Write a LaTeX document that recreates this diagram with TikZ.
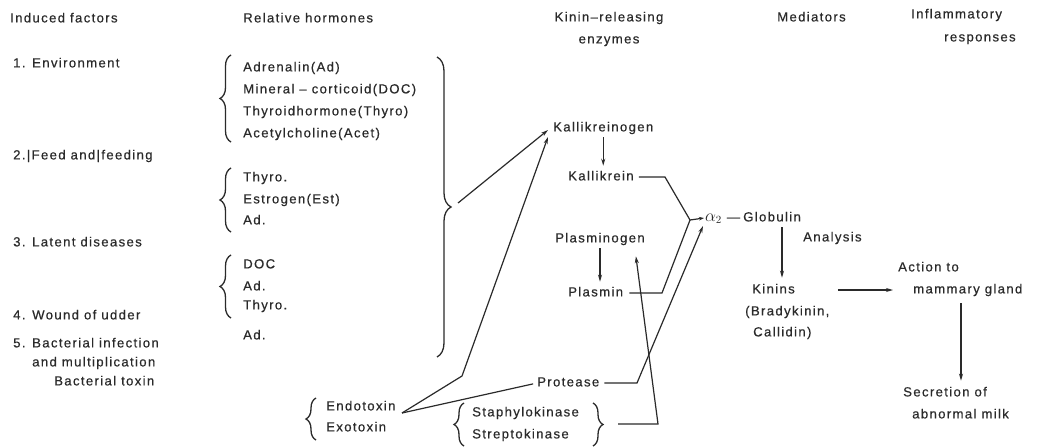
\documentclass[tikz,border=0pt]{standalone}
\usepackage{fontspec}
\setmainfont{Liberation Sans}[LetterSpace=10,FakeBold=0.4]
\usetikzlibrary{arrows.meta,decorations.pathreplacing}
\definecolor{ink}{HTML}{2A2A2A}
\begin{document}
\begin{tikzpicture}[x=1pt,y=-1pt,
  every node/.style={font=\fontsize{13.2pt}{15pt}\selectfont, text=ink, inner sep=0pt, anchor=west, text height=9.5pt, text depth=2.7pt},
  conn/.style={draw=ink, line width=1.2pt},
  arr/.style={conn, -{Stealth[length=7pt,width=4pt]}},
  sarr/.style={conn, -{Stealth[length=5pt,width=3.5pt]}},
  bracedraw/.style={draw=ink, line width=1.3pt, decorate, decoration={brace, amplitude=#1}},
]
\useasboundingbox[fill=white] (0,0) rectangle (1049,447);
% headers
\node (hInd) at (10,19) {Induced factors};
\node (hRel) at (243,19) {Relative hormones};
\node[anchor=center] (hKin) at (609,18) {Kinin–releasing};
\node[anchor=center] (hEnz) at (609,40) {enzymes};
\node (hMed) at (777,18) {Mediators};
\node (hInf) at (911,15) {Inflammatory};
\node (hRes) at (944,38) {responses};
% induced factors
\node (f1) at (13,64) {1. Environment};
\node (f2) at (13,156) {2.|Feed and|feeding};
\node (f3) at (13,243) {3. Latent diseases};
\node (f4) at (13,316) {4. Wound of udder};
\node (f5) at (13,344) {5. Bacterial infection};
\node (f5b) at (32,363) {and multiplication};
\node (f5c) at (54,382) {Bacterial toxin};
% hormones
\node (h1) at (243,68) {Adrenalin(Ad)};
\node (h2) at (243,90) {Mineral – corticoid(DOC)};
\node (h3) at (243,112) {Thyroidhormone(Thyro)};
\node (h4) at (243,134) {Acetylcholine(Acet)};
\node (h5) at (243,178) {Thyro.};
\node (h6) at (243,200) {Estrogen(Est)};
\node (h7) at (243,221) {Ad.};
\node (h8) at (243,265) {DOC};
\node (h9) at (243,287) {Ad.};
\node (h10) at (243,306) {Thyro.};
\node (h11) at (243,336) {Ad.};
% toxins and kinases
\node (endo) at (326,407) {Endotoxin};
\node (exo) at (326,428) {Exotoxin};
\node (staph) at (472,413) {Staphylokinase};
\node (strep) at (472,435) {Streptokinase};
% enzymes
\node (kgen) at (553,128) {Kallikreinogen};
\node (kal) at (568,177) {Kallikrein};
\node (pg) at (555,239) {Plasminogen};
\node (pl) at (568,293) {Plasmin};
\node (prot) at (537,383) {Protease};
% mediators
\node (alpha) at (705,218) {{\fontsize{16pt}{16pt}\selectfont$\alpha_2$} —};
\node (glob) at (743,218) {Globulin};
\node (ana) at (803,238) {Analysis};
\node (kin) at (752,290) {Kinins};
\node (brady) at (745,312) {(Bradykinin,};
\node (cal) at (753,333) {Callidin)};
% responses
\node (act) at (898,268) {Action to};
\node (mam) at (913,290) {mammary gland};
\node (sec) at (903,393) {Secretion of};
\node (abn) at (912,415) {abnormal milk};
% braces
\draw[bracedraw=11pt] (231,142) -- (231,55);
\draw[bracedraw=11pt] (231,232) -- (231,168);
\draw[bracedraw=11pt] (231,318) -- (231,255);
\draw[bracedraw=14pt] (437,57) -- (437,357);
\draw[bracedraw=10pt] (316,440) -- (316,398);
\draw[bracedraw=10pt] (464,446) -- (464,403);
\draw[bracedraw=10pt] (593,403) -- (593,446);
% coordinates
\coordinate (bt) at (458,203);
\coordinate (tox) at (402,413);
\coordinate (tb) at (462,376);
\coordinate (k1) at (665,177);
\coordinate (jn) at (690,220);
\coordinate (p1) at (662,293);
\coordinate (q1) at (637,383);
\coordinate (s0) at (618,424);
\coordinate (s1) at (658,424);
\coordinate (px) at (600,0);
\coordinate (ka) at (782,0);
\coordinate (ax) at (961,0);
% connectors
\draw[arr] (bt) -- ([shift={(-5,2)}]kgen.west);
\draw[arr] (tox) -- (tb) -- ([shift={(-5,9)}]kgen.west);
\draw[conn, shorten >=4pt] (tox) -- (prot.west);
\draw[arr, shorten <=3pt, shorten >=5pt] (kgen.south) -- (kgen.south |- kal.north);
\draw[conn] ([xshift=5pt]kal.east) -- (k1) -- (jn);
\draw[conn] ([xshift=6pt]pl.east) -- (p1) -- (jn);
\draw[sarr] (jn) -- ([xshift=-1pt]alpha.west);
\draw[arr] ([xshift=5pt]prot.east) -- (q1) -- ([shift={(-2,8)}]alpha.west);
\draw[arr] (s0) -- (s1) -- ([shift={(-9,11)}]pg.south east);
\draw[arr, shorten <=3pt, shorten >=5pt] (pg.south -| px) -- (pl.north -| px);
\draw[arr, shorten <=3pt, shorten >=6pt] (glob.south -| ka) -- (kin.north -| ka);
\draw[arr] ([xshift=43pt]kin.east) -- ([xshift=-20pt]mam.west);
\draw[arr, shorten <=7pt, shorten >=6pt] (mam.south -| ax) -- (sec.north -| ax);
\end{tikzpicture}
\end{document}
